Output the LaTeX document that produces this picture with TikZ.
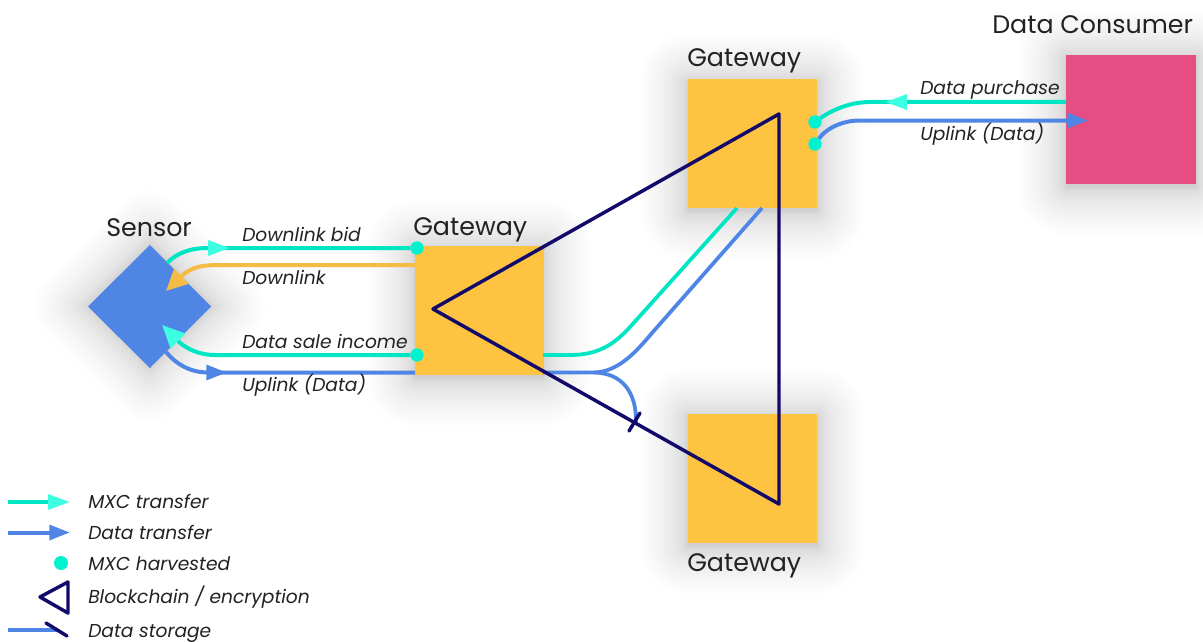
\documentclass[tikz,border=0pt]{standalone}
\usepackage{fontspec}
\setmainfont{Poppins}
\usetikzlibrary{arrows.meta}
\definecolor{mxcline}{HTML}{00E6C3}
\definecolor{mxchead}{HTML}{3DFFE2}
\definecolor{mxcdot}{HTML}{00F2CE}
\definecolor{datablue}{HTML}{4F86E6}
\definecolor{gateorange}{HTML}{FFC342}
\definecolor{downorange}{HTML}{F5BC45}
\definecolor{pinkbox}{HTML}{E64D82}
\definecolor{navyline}{HTML}{110A6B}
\definecolor{inktext}{HTML}{222222}
\newcommand{\softbox}[4]{%
  \foreach \k [evaluate=\k as \g using \k*\k/12] in {1,...,24}{%
    \fill[black,opacity=0.007,rounded corners=\g*0.75pt]
      (#1-\g,#2-\g+3) rectangle (#3+\g,#4+\g+3);}}
\tikzset{
  x=0.75pt,y=-0.75pt,
  title/.style={anchor=base west,inner sep=0pt,font=\fontsize{19pt}{22pt}\selectfont,text=inktext},
  tag/.style={anchor=base west,inner sep=0pt,font=\fontsize{14pt}{17pt}\itshape\selectfont,text=inktext},
  gatebox/.style={fill=gateorange,minimum width=96.75pt,minimum height=96.75pt,inner sep=0pt,outer sep=0pt,draw=none},
  mxc/.style={draw=mxcline,line width=3pt},
  datal/.style={draw=datablue,line width=3pt},
  downl/.style={draw=downorange,line width=3pt},
  chain/.style={draw=navyline,line width=2.6pt,line join=round,line cap=round},
  harvest/.style={circle,fill=mxcdot,minimum size=10pt,inner sep=0pt,outer sep=0pt},
  mxctip/.style={-{Triangle[length=16.5pt,width=11pt,color=mxchead]}},
  datatip/.style={-{Triangle[length=15.5pt,width=11pt,color=datablue]}},
  downtip/.style={-{Triangle[length=16pt,width=15pt,color=downorange]}},
  lowtip/.style={-{Triangle[length=17pt,width=15pt,color=mxchead]}},
}
\begin{document}
\begin{tikzpicture}
\useasboundingbox[fill=white] (0,0) rectangle (1203,642);
% soft shadows
\softbox{415}{246}{543}{375}
\softbox{688}{79}{817}{208}
\softbox{688}{414}{817}{543}
\softbox{1066}{55}{1196}{184}
\foreach \k [evaluate=\k as \g using \k*\k/12] in {1,...,24}{%
  \fill[black,opacity=0.008,rounded corners=\g*0.5pt]
    (150,{306-61-1.41*\g}) -- ({150+61+1.41*\g},306) -- (150,{306+61+1.41*\g}) -- ({150-61-1.41*\g},306) -- cycle;}
% shapes
\node[gatebox] (gwa) at (479,310.5) {};
\node[gatebox] (gwb) at (752.5,143.5) {};
\node[gatebox] (gwc) at (752.5,478.5) {};
\node[fill=pinkbox,minimum width=97.5pt,minimum height=96.75pt,inner sep=0pt,outer sep=0pt] (consumer) at (1131,119.5) {};
\fill[datablue] (150,245) -- (211,306.5) -- (150,368) -- (88,306.5) -- cycle;
\coordinate (sensor) at (150,306.5);
% titles
\node[title] (tsensor) at (106,236) {Sensor};
\node[title] (tgwa) at (413,235) {Gateway};
\node[title] (tgwb) at (687,67) {Gateway};
\node[title] (tgwc) at (687,571) {Gateway};
\node[title] (tcons) at (992,34) {Data Consumer};
% free ends
\coordinate (s1) at (167,263);
\coordinate (s2) at (208,248);
\coordinate (s3) at (230,248);
\coordinate (o1) at (415,265);
\coordinate (o2) at (218,265);
\coordinate (o3) at (166,291);
\coordinate (t1) at (215,355);
\coordinate (t2) at (162,325);
\coordinate (u1) at (166,352);
\coordinate (u2) at (208,372.5);
\coordinate (u3) at (227,372.5);
\coordinate (u4) at (415,372.5);
% harvest dots
\node[harvest] (da) at (417,248) {};
\node[harvest] (db) at (417,355) {};
\node[harvest] (dc) at (815,122) {};
\node[harvest] (dd) at (815,144) {};
% sensor <-> gateway
\draw[mxc] (s1) .. controls (177,253) and (190,248) .. (s2) -- (da);
\draw[mxc,mxctip] (s2) -- (s3);
\draw[downl,downtip] (o1) -- (o2) .. controls (200,265) and (190,268) .. (o3);
\draw[mxc,lowtip] (db) -- (t1) .. controls (198,355) and (185,348) .. (t2);
\draw[datal] (u1) .. controls (176,364) and (190,372.5) .. (u2) -- (u4);
\draw[datal,datatip] (u2) -- (u3);
% gateway -> gateway
\coordinate (m1) at (543,355);
\coordinate (m2) at (737,208);
\coordinate (m3) at (543,372.5);
\coordinate (m4) at (762,208);
\coordinate (m5) at (594,372.5);
\coordinate (m6) at (636,424);
\draw[mxc,line width=2.8pt] (m1) -- (570,355) .. controls (595,355) and (612,347) .. (630,327) -- (m2);
\draw[datal,line width=2.8pt] (m3) -- (m5) .. controls (618,372) and (636,352) .. (652,333) -- (m4);
\draw[datal,line width=2.8pt] (m5) .. controls (622,373) and (637,392) .. (m6);
% gateway -> consumer
\coordinate (c1) at (870,102);
\coordinate (c2) at (904,102);
\coordinate (c3) at (885,102);
\coordinate (c4) at (1066,102);
\coordinate (c5) at (860,120.5);
\coordinate (c6) at (1066,120.5);
\coordinate (c7) at (1088,120.5);
\draw[mxc] (dc) .. controls (832,110) and (850,102) .. (c1) -- (c4);
\draw[mxc,mxctip] (c2) -- (c3);
\draw[datal] (dd) .. controls (825,130) and (840,120.5) .. (c5) -- (c6);
\draw[datal,datatip] (c6) -- (c7);
% blockchain triangle and storage tick
\coordinate (ta) at (433,309);
\coordinate (tb) at (779,114);
\coordinate (tc) at (779,504);
\draw[chain] (ta) -- (tb) -- (tc) -- cycle;
\coordinate (k1) at (629,431);
\coordinate (k2) at (640,413);
\draw[chain] (k1) -- (k2);
% labels
\node[tag] (l1) at (242,241) {Downlink bid};
\node[tag] (l2) at (242,284) {Downlink};
\node[tag] (l3) at (242,348) {Data sale income};
\node[tag] (l4) at (242,391) {Uplink (Data)};
\node[tag] (l5) at (920,94) {Data purchase};
\node[tag] (l6) at (920,140) {Uplink (Data)};
% legend
\coordinate (a1) at (8,502);
\coordinate (a2) at (48,502);
\coordinate (a3) at (70,502);
\draw[mxc] (a1) -- (a2);
\draw[mxc,mxctip] (a2) -- (a3);
\coordinate (b1) at (8,532.5);
\coordinate (b2) at (48,532.5);
\coordinate (b3) at (70,532.5);
\draw[datal] (b1) -- (b2);
\draw[datal,datatip] (b2) -- (b3);
\node[harvest,minimum size=10.5pt] (dl) at (61,563) {};
\coordinate (e1) at (40,597);
\coordinate (e2) at (68,582);
\coordinate (e3) at (68,613);
\draw[chain] (e1) -- (e2) -- (e3) -- cycle;
\coordinate (f1) at (8,630);
\coordinate (f2) at (58,630);
\coordinate (f3) at (46,623);
\coordinate (f4) at (67,636);
\draw[datal] (f1) -- (f2);
\draw[chain] (f3) -- (f4);
\node[tag] (g1) at (88,508) {MXC transfer};
\node[tag] (g2) at (88,539) {Data transfer};
\node[tag] (g3) at (88,570) {MXC harvested};
\node[tag] (g4) at (88,603) {Blockchain / encryption};
\node[tag] (g5) at (88,637) {Data storage};
\end{tikzpicture}
\end{document}
